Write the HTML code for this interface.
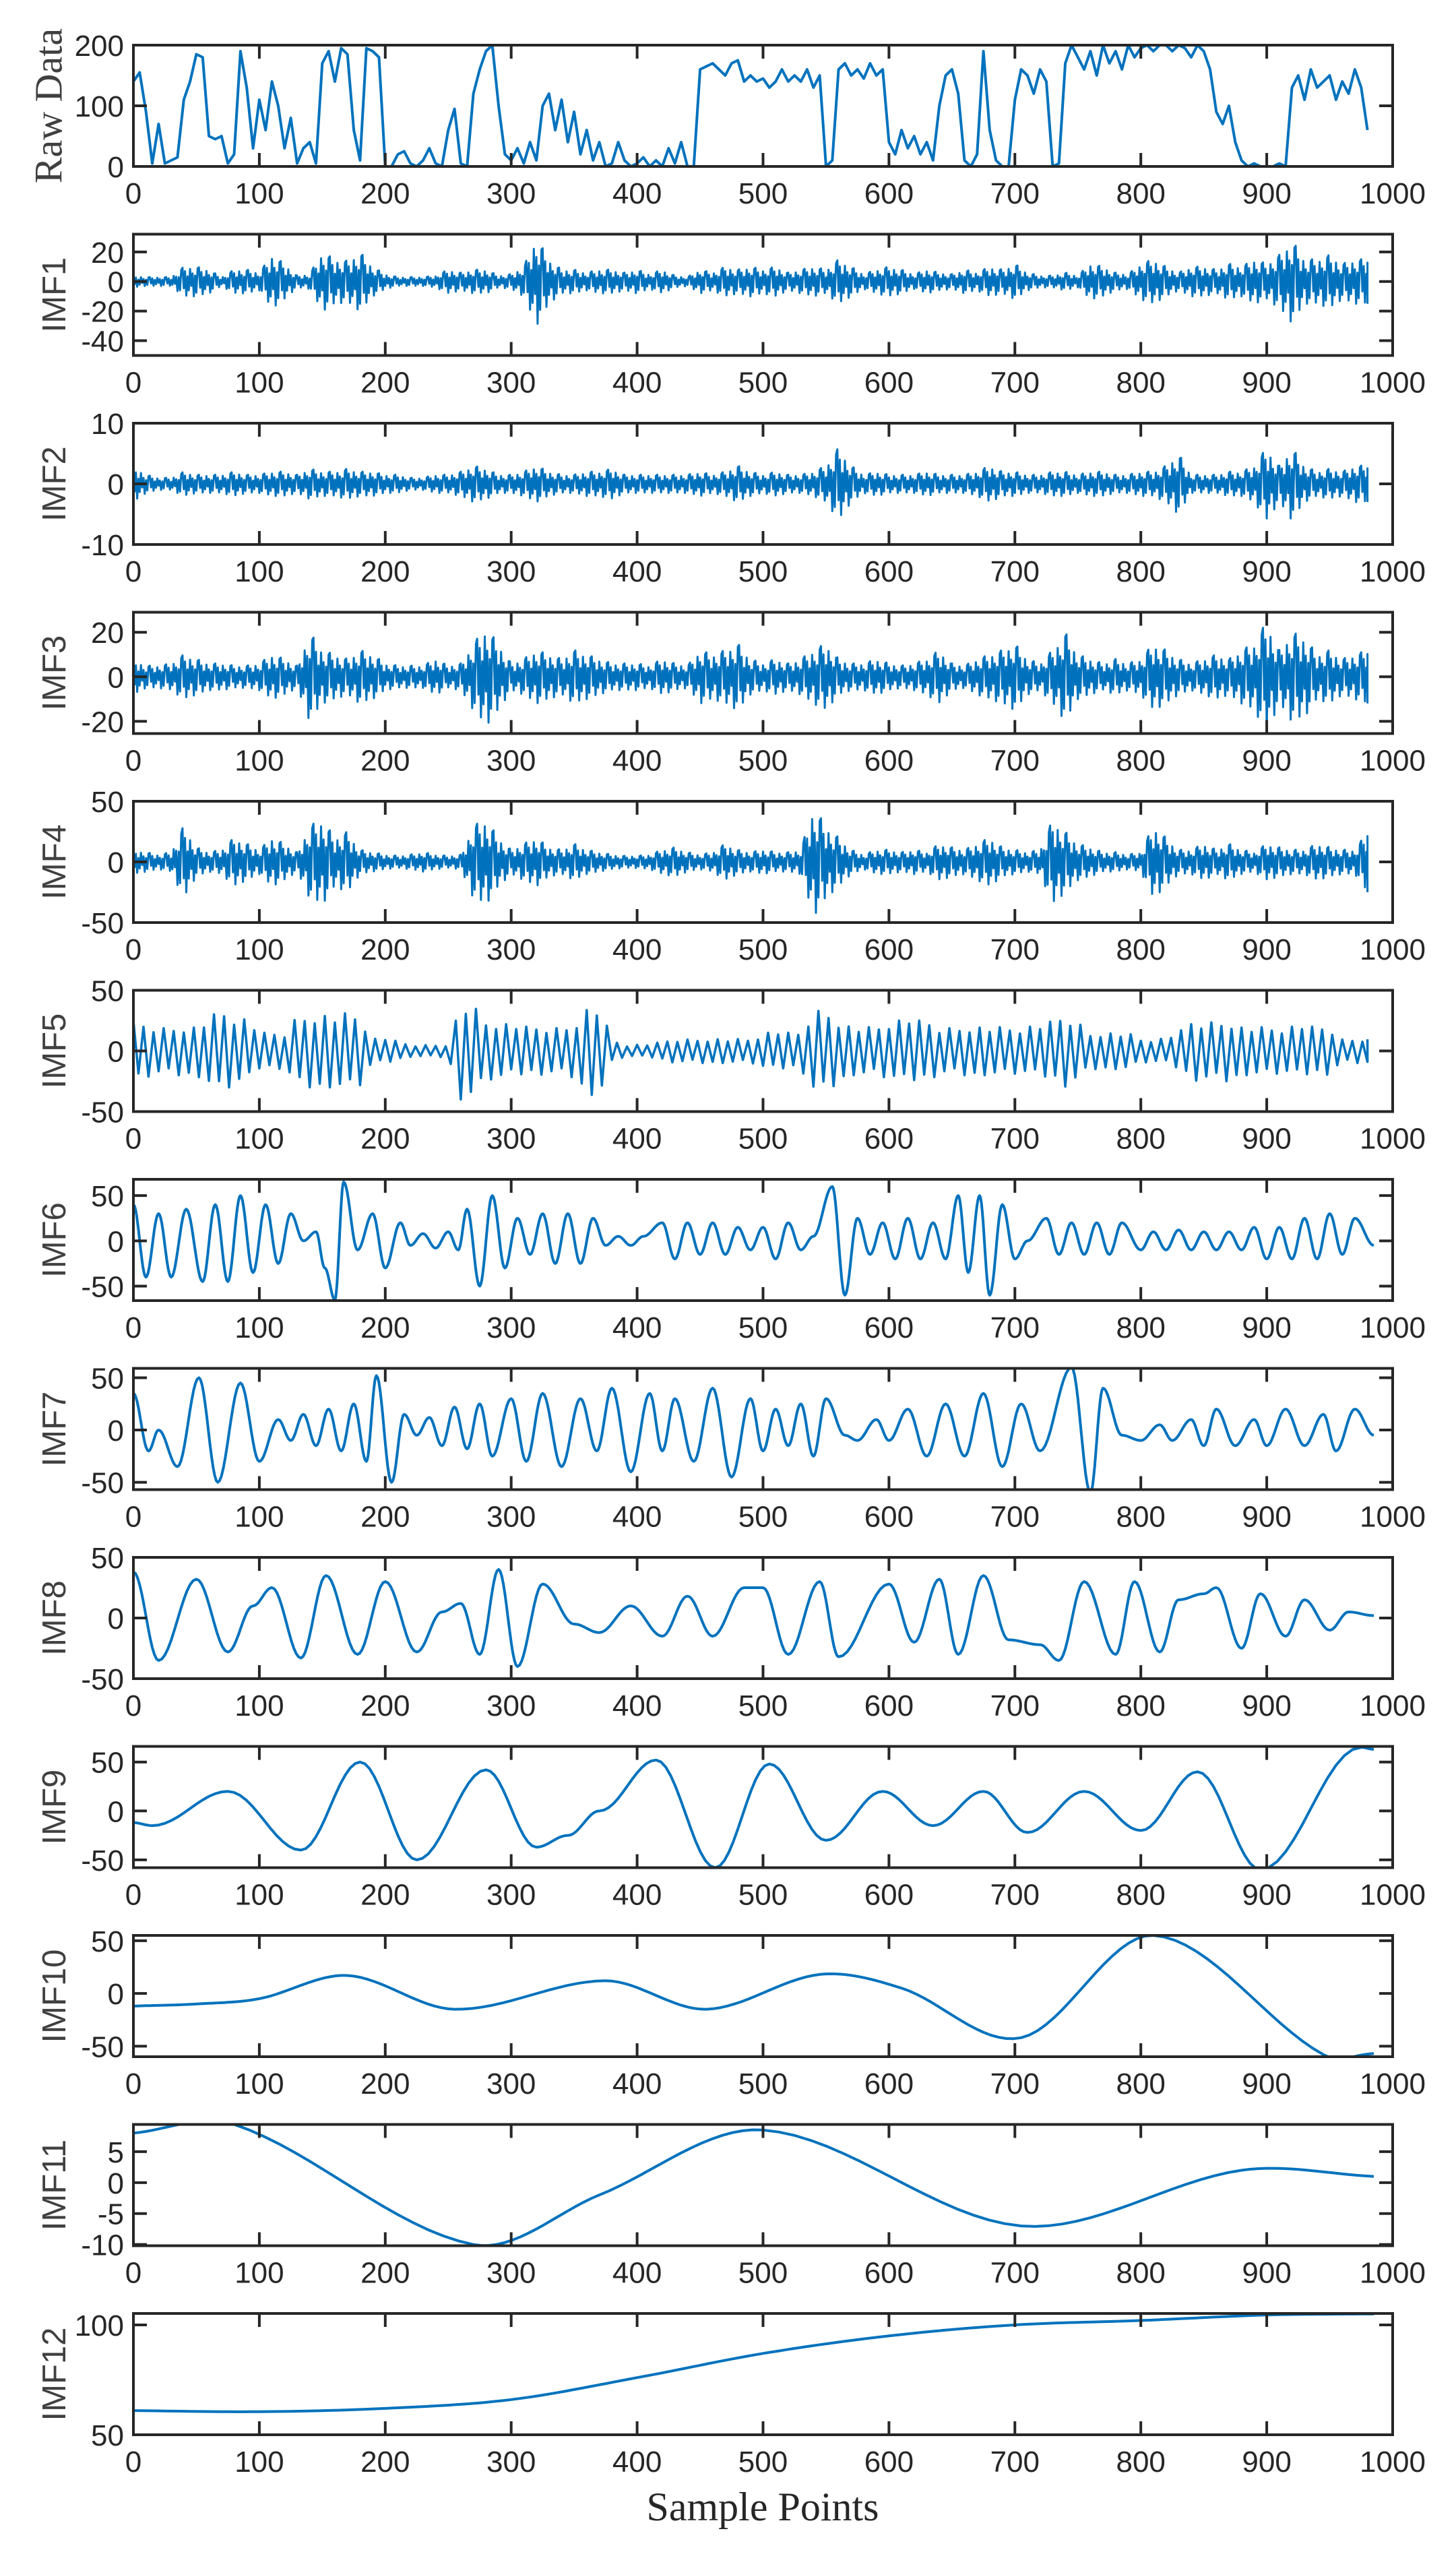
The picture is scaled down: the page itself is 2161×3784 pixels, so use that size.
<!DOCTYPE html>
<html><head><meta charset="utf-8"><style>
html,body{margin:0;padding:0;background:#fff;}
svg{display:block;}
</style></head><body>
<svg id="fig" xmlns="http://www.w3.org/2000/svg" width="2161" height="3784" viewBox="0 0 2161 3784">
<rect x="0" y="0" width="2161" height="3784" fill="#fff"/>
<text x="1132" y="3740" text-anchor="middle" font-family="Liberation Serif, serif" font-size="60" fill="#262626">Sample Points</text>
</svg>
<script>
// ---- data arrays ----
var xTicks = [0,100,200,300,400,500,600,700,800,900,1000];
var rawStep = 5;
var rawValues = [140,155,90,5,70,5,10,15,110,140,
185,180,50,45,50,5,20,190,130,30,
110,60,140,100,30,80,5,30,40,5,
170,190,140,195,185,60,10,195,190,180,
0,0,20,25,5,0,10,30,5,0,
60,95,5,0,120,160,190,200,100,20,
10,30,5,40,10,100,120,60,110,40,
90,20,60,10,40,0,5,40,10,0,
5,15,0,10,0,30,5,40,0,0,
160,165,170,160,150,170,175,140,150,140,
145,130,140,160,140,150,140,160,130,150,
0,10,160,170,150,160,145,170,150,160,
40,20,60,30,50,20,40,10,100,150,
160,120,10,0,20,190,60,10,0,0,
110,160,150,120,160,140,0,5,170,200,
180,160,190,150,200,170,190,160,200,180,
195,200,190,200,200,190,200,195,180,200,
190,160,90,70,100,40,10,0,5,0,
0,0,5,0,130,150,110,160,130,140,
150,110,140,120,160,130,60];
var envStep = 10;
var imf1Env = [4,3,3,3,10,10,8,3,8,8,6,18,12,4,5,20,15,14,20,10,5,3,3,3,4,8,6,8,8,4,5,10,30,15,8,8,6,8,8,6,8,5,8,4,3,8,6,10,8,10,8,10,6,8,10,8,15,10,5,8,10,8,5,8,6,5,8,6,10,8,12,6,4,4,6,4,12,10,6,5,12,15,10,6,10,10,8,12,10,15,12,18,28,15,15,18,12,15,15];
var imf2Env = [3,1.5,1,1,2,1.5,1.5,1.5,2,1.5,1.5,2,2,1.5,2.5,2,2,2.5,2,2,1.5,1.5,1,1,1.5,1.5,2,3,2.5,1.5,1.5,2,3,2,1.5,1.5,2,2,2.5,1.5,1.5,1.5,1.5,1.5,1.5,2,1.5,2,3,2,1.5,2,1.5,1.5,2,3,6,3,1.5,2,1.5,1.5,1.5,2,1.5,1.5,1.5,2,3,2,2,1.5,1.5,2,2,1.5,2,2,1.5,1.5,2,2,3,5,1.5,1.5,1.5,2,2,3,6,3,6,3,2,2.5,2,3,3];
var imf3Env = [8,5,5,6,10,8,6,6,5,5,6,10,8,5,20,12,10,8,12,10,6,5,5,5,8,5,6,15,22,15,6,8,12,10,8,12,10,8,6,6,6,5,8,6,5,12,10,12,15,8,6,8,6,8,12,15,8,6,6,8,6,5,6,8,12,6,5,8,10,12,15,8,6,12,20,10,8,6,8,6,8,15,12,8,6,8,10,8,12,15,25,12,20,18,10,12,8,10,12];
var imf4Env = [10,8,6,8,30,12,8,10,20,15,10,20,15,8,30,35,20,25,10,8,6,5,6,8,6,5,6,30,35,20,10,15,20,12,10,15,10,8,6,5,5,6,10,12,8,6,8,15,10,8,10,8,8,10,45,30,20,10,6,10,10,8,10,8,15,12,10,15,20,12,10,8,10,35,25,15,12,8,8,6,8,30,20,10,10,15,10,15,10,8,15,12,10,10,15,12,10,10,25];
var imf5Env = [25,22,20,20,20,20,28,35,30,25,15,15,15,30,30,30,30,32,30,10,10,8,5,5,5,5,40,38,25,25,20,20,20,20,20,22,35,38,10,5,5,5,8,10,10,10,10,10,10,10,15,15,15,15,35,35,25,20,20,20,25,25,25,25,20,20,20,20,20,20,20,20,20,25,30,25,15,15,15,15,10,10,10,15,25,25,25,25,20,20,20,20,20,20,20,20,10,10,10];
var imf5HalfPeriod = 4;
var noisePattern = [1,-0.45,0.7,-0.95,0.35,-0.6,0.85,-0.3,0.55,-1,0.4,-0.75,0.9];
var imf6X = [0,10,20,30,42,55,65,75,85,95,105,115,125,135,145,152,160,167,178,190,200,212,220,230,240,250,258,265,275,285,295,305,315,325,335,345,355,365,375,385,395,405,420,430,440,450,460,470,480,490,500,510,520,530,540,555,565,575,585,595,605,615,625,635,645,655,663,672,680,690,700,710,725,735,745,755,765,775,785,800,810,820,830,840,850,860,870,880,890,900,910,920,930,940,950,960,970,985];
var imf6Y = [40,-40,30,-40,35,-45,40,-45,50,-35,40,-25,30,0,10,-30,-65,65,-10,30,-30,20,-5,8,-8,10,-10,35,-50,50,-30,25,-15,30,-25,30,-25,25,-5,5,-5,5,20,-20,20,-15,20,-15,15,-10,15,-20,20,-10,5,60,-60,25,-15,20,-20,25,-20,20,-20,50,-35,50,-60,40,-20,0,25,-15,20,-15,20,-15,20,-10,10,-10,12,-10,10,-10,10,-10,15,-20,15,-20,25,-20,30,-15,25,-5];
var imf7X = [0,12,20,35,52,67,85,100,115,125,135,145,155,165,175,185,193,205,215,225,235,245,255,265,275,285,300,312,325,340,355,368,380,395,410,420,430,445,460,475,490,500,510,520,530,540,550,565,575,590,600,615,630,645,660,675,690,705,720,745,760,770,785,800,815,825,840,850,860,875,890,900,915,930,945,955,970,985];
var imf7Y = [35,-20,0,-35,50,-50,45,-30,10,-10,15,-15,20,-20,25,-30,52,-50,15,-5,12,-15,22,-18,25,-25,30,-30,35,-35,30,-20,40,-40,35,-20,30,-30,40,-45,30,-20,20,-15,25,-25,30,-5,-10,10,-10,20,-25,25,-25,35,-35,25,-20,60,-60,40,-5,-10,5,-10,10,-15,20,-15,10,-15,20,-15,15,-20,20,-5];
var imf8X = [0,20,50,75,95,110,133,153,178,200,225,245,260,275,290,305,325,350,370,395,420,440,460,485,500,520,545,560,600,620,640,655,675,695,720,735,755,780,795,815,830,850,860,880,895,915,930,950,965,985];
var imf8Y = [38,-35,32,-28,10,25,-33,35,-30,30,-28,5,12,-30,40,-40,28,-5,-12,10,-15,18,-15,25,25,-30,30,-32,28,-20,32,-30,35,-18,-22,-35,30,-30,30,-28,15,20,25,-25,20,-15,15,-10,5,2];
var imf9X = [0,15,75,133,180,225,280,320,345,370,415,462,505,550,595,635,675,710,755,800,845,895,975,985];
var imf9Y = [-12,-15,20,-40,50,-50,42,-37,-25,0,52,-58,48,-30,20,-15,20,-22,20,-20,40,-60,65,63];
var imf10X = [0,50,100,170,255,375,455,545,610,705,810,945,985];
var imf10Y = [-12,-10,-5,17,-15,12,-15,18,5,-42,55,-58,-57];
var imf11X = [0,80,270,370,500,705,880,985];
var imf11Y = [8,9.4,-10,-2,8.5,-7,2,1];
var imf12X = [0,100,200,300,400,500,600,700,800,900,985];
var imf12Y = [61,60.5,62,66,76,87,95,100,102,104.5,105];

var plotSpecs = [
 {name:'raw-data', label:'Raw Data', serif:true, ylim:[0,200], ticks:[0,100,200]},
 {name:'imf1', label:'IMF1', ylim:[-50,32], ticks:[-40,-20,0,20]},
 {name:'imf2', label:'IMF2', ylim:[-10,10], ticks:[-10,0,10]},
 {name:'imf3', label:'IMF3', ylim:[-25.5,29], ticks:[-20,0,20]},
 {name:'imf4', label:'IMF4', ylim:[-50,50], ticks:[-50,0,50]},
 {name:'imf5', label:'IMF5', ylim:[-50,50], ticks:[-50,0,50]},
 {name:'imf6', label:'IMF6', ylim:[-66,68], ticks:[-50,0,50]},
 {name:'imf7', label:'IMF7', ylim:[-57,59], ticks:[-50,0,50]},
 {name:'imf8', label:'IMF8', ylim:[-50,50], ticks:[-50,0,50]},
 {name:'imf9', label:'IMF9', ylim:[-58,66], ticks:[-50,0,50]},
 {name:'imf10', label:'IMF10', ylim:[-60,55], ticks:[-50,0,50]},
 {name:'imf11', label:'IMF11', ylim:[-10.2,9.4], ticks:[-10,-5,0,5]},
 {name:'imf12', label:'IMF12', ylim:[50,105.2], ticks:[50,100]}
];

// ---- drawing ----
var NS='http://www.w3.org/2000/svg';
var svg=document.getElementById('fig');
var L=198, R=2067, TOP0=67, PITCH=280.5, H=180;
function xs(v){return L+(v-0)/(1000-0)*(R-L);}
function mk(tag,attrs,parent){var e=document.createElementNS(NS,tag);for(var k in attrs)e.setAttribute(k,attrs[k]);(parent||svg).appendChild(e);return e;}

function envAt(env,step,xi){var i=Math.floor(xi/step);var f=(xi-i*step)/step;
  return (i+1<env.length)?env[i]*(1-f)+env[i+1]*f:env[env.length-1];}
function envSeries(env, step, half){
  var out=[];var n=(env.length-1)*step;var k=0;
  for(var x=0;x<=n+4;x+=half){
    var xi=Math.min(x,n);
    out.push([xi, envAt(env,step,xi)*noisePattern[k%noisePattern.length]]);k++;
  }
  return out;
}
function altSeries(env, step, half){
  var out=[];var n=(env.length-1)*step;var k=0;
  for(var x=0;x<=n+4;x+=half){
    var xi=Math.min(x,n);
    var p=Math.abs(noisePattern[k%noisePattern.length]);
    out.push([xi,(k%2?-1:1)*envAt(env,step,xi)*(0.6+0.4*p)]);k++;
  }
  return out;
}
function smoothSeries(X,Y){
  var out=[];
  for(var i=0;i<X.length-1;i++){
    for(var s=0;s<12;s++){var t=s/12;var w=(1-Math.cos(Math.PI*t))/2;
      out.push([X[i]+(X[i+1]-X[i])*t, Y[i]+(Y[i+1]-Y[i])*w]);}
  }
  out.push([X[X.length-1],Y[Y.length-1]]);
  return out;
}
function splineSeries(X,Y){
  var out=[];var n=X.length;
  function slope(i){
    if(i===0) return (Y[1]-Y[0])/(X[1]-X[0]);
    if(i===n-1) return (Y[n-1]-Y[n-2])/(X[n-1]-X[n-2]);
    return (Y[i+1]-Y[i-1])/(X[i+1]-X[i-1]);
  }
  for(var i=0;i<n-1;i++){
    var h=X[i+1]-X[i], m0=slope(i)*h, m1=slope(i+1)*h;
    for(var s=0;s<16;s++){var t=s/16,t2=t*t,t3=t2*t;
      var v=(2*t3-3*t2+1)*Y[i]+(t3-2*t2+t)*m0+(-2*t3+3*t2)*Y[i+1]+(t3-t2)*m1;
      out.push([X[i]+h*t,v]);}
  }
  out.push([X[n-1],Y[n-1]]);
  return out;
}
function stepSeries(vals,step){return vals.map(function(v,i){return [i*step,v];});}

var seriesList=[
  stepSeries(rawValues,rawStep),
  envSeries(imf1Env,envStep,1),
  envSeries(imf2Env,envStep,1),
  envSeries(imf3Env,envStep,1),
  envSeries(imf4Env,envStep,1),
  altSeries(imf5Env,envStep,imf5HalfPeriod),
  smoothSeries(imf6X,imf6Y),
  smoothSeries(imf7X,imf7Y),
  smoothSeries(imf8X,imf8Y),
  smoothSeries(imf9X,imf9Y),
  splineSeries(imf10X,imf10Y),
  splineSeries(imf11X,imf11Y),
  splineSeries(imf12X,imf12Y)
];
var lineWidths=[4,3,3,3,3,3.5,4,4,4,4,4,4,4];

var defs=mk('defs',{});
plotSpecs.forEach(function(p,idx){
  var top=TOP0+PITCH*idx, bot=top+H;
  var y0=p.ylim[0], y1=p.ylim[1];
  function ys(v){return bot-(v-y0)/(y1-y0)*H;}
  var g=mk('g',{});
  
  
  var cp=mk('clipPath',{id:'c'+idx},defs);
  mk('rect',{x:L,y:top,width:R-L,height:H},cp);
  var pts=seriesList[idx].map(function(d){return xs(d[0]).toFixed(1)+','+ys(d[1]).toFixed(1);}).join(' ');
  var line=mk('polyline',{points:pts,fill:'none',stroke:'#0072BD','stroke-width':lineWidths[idx],'stroke-linejoin':'round','clip-path':'url(#c'+idx+')'},g);
  
  
  var fr=mk('rect',{x:L,y:top,width:R-L,height:H,fill:'none',stroke:'#262626','stroke-width':4},g);
  
  
  xTicks.forEach(function(t){
    var x=xs(t);
    mk('line',{x1:x,y1:bot,x2:x,y2:bot-20,stroke:'#262626','stroke-width':4},g);
    mk('line',{x1:x,y1:top,x2:x,y2:top+20,stroke:'#262626','stroke-width':4},g);
    var tl=mk('text',{x:x,y:bot+55,'text-anchor':'middle','font-family':'Liberation Sans, sans-serif','font-size':44,fill:'#262626'},g);
    tl.textContent=String(t);
    
    
  });
  p.ticks.forEach(function(t){
    var y=ys(t);
    mk('line',{x1:L,y1:y,x2:L+20,y2:y,stroke:'#262626','stroke-width':4},g);
    mk('line',{x1:R,y1:y,x2:R-20,y2:y,stroke:'#262626','stroke-width':4},g);
    var tl=mk('text',{x:L-14,y:y+16,'text-anchor':'end','font-family':'Liberation Sans, sans-serif','font-size':44,fill:'#262626'},g);
    tl.textContent=String(t);
    
    
  });
  var cy=top+H/2, cx=p.serif?72:81;
  var lab=mk('text',{x:cx,y:cy,'text-anchor':'middle','dominant-baseline':'central',transform:'rotate(-90 '+cx+' '+cy+')','font-family':p.serif?'Liberation Serif, serif':'Liberation Sans, sans-serif','font-size':p.serif?58:49,fill:'#404040'},g);
  lab.textContent=p.label;
  
  
});
</script>
</body></html>
